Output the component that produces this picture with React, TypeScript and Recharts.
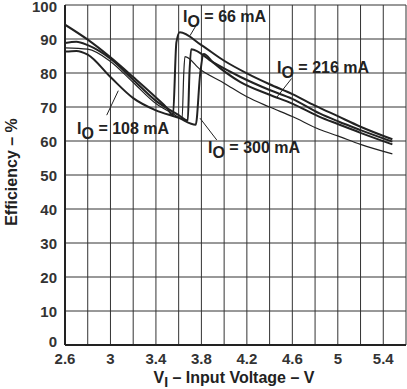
import React from 'react';
import { LineChart, Line, XAxis, YAxis, CartesianGrid, ReferenceDot, ReferenceLine } from 'recharts';

// Input voltage (V) / efficiency (%) for each load current
const io66 = [
  { v: 2.6, eff: 94.2 }, { v: 2.8, eff: 89.8 }, { v: 3.0, eff: 84.6 }, { v: 3.2, eff: 78.8 },
  { v: 3.4, eff: 72.8 }, { v: 3.5, eff: 69.6 }, { v: 3.55, eff: 67.5 }, { v: 3.58, eff: 89 },
  { v: 3.61, eff: 92 }, { v: 3.8, eff: 88.2 }, { v: 4.0, eff: 83.6 }, { v: 4.2, eff: 79.9 },
  { v: 4.4, eff: 76.7 }, { v: 4.6, eff: 73.8 }, { v: 4.8, eff: 70.4 }, { v: 5.0, eff: 67.3 },
  { v: 5.2, eff: 64.2 }, { v: 5.48, eff: 60.5 },
];
const io216 = [
  { v: 2.6, eff: 88.8 }, { v: 2.7, eff: 89.2 }, { v: 2.8, eff: 88.2 }, { v: 3.0, eff: 84.2 },
  { v: 3.2, eff: 78.0 }, { v: 3.4, eff: 71.8 }, { v: 3.6, eff: 67.6 }, { v: 3.68, eff: 66.0 },
  { v: 3.695, eff: 80 }, { v: 3.71, eff: 87 }, { v: 3.9, eff: 83.2 }, { v: 4.14, eff: 78.9 },
  { v: 4.4, eff: 75.0 }, { v: 4.6, eff: 72.4 }, { v: 4.84, eff: 68.1 }, { v: 5.0, eff: 65.8 },
  { v: 5.2, eff: 63.2 }, { v: 5.48, eff: 59.8 },
];
const io300 = [
  { v: 2.6, eff: 86.3 }, { v: 2.7, eff: 86.5 }, { v: 2.8, eff: 85.4 }, { v: 3.0, eff: 78.8 },
  { v: 3.2, eff: 72.6 }, { v: 3.4, eff: 69.0 }, { v: 3.6, eff: 66.8 }, { v: 3.75, eff: 64.8 },
  { v: 3.79, eff: 80 }, { v: 3.82, eff: 85.6 }, { v: 3.9, eff: 83.2 }, { v: 4.14, eff: 77.4 },
  { v: 4.4, eff: 73.6 }, { v: 4.6, eff: 71.0 }, { v: 4.84, eff: 67.1 }, { v: 5.0, eff: 65.0 },
  { v: 5.2, eff: 62.4 }, { v: 5.48, eff: 59.0 },
];
const io108 = [
  { v: 2.6, eff: 87.4 }, { v: 2.8, eff: 87.0 }, { v: 3.0, eff: 83.4 }, { v: 3.2, eff: 77.2 },
  { v: 3.4, eff: 71.0 }, { v: 3.55, eff: 68.0 }, { v: 3.63, eff: 66.5 }, { v: 3.645, eff: 80 },
  { v: 3.655, eff: 84.8 }, { v: 3.79, eff: 81.0 }, { v: 4.0, eff: 77.0 }, { v: 4.2, eff: 73.0 },
  { v: 4.4, eff: 70.0 }, { v: 4.6, eff: 67.2 }, { v: 4.84, eff: 63.4 }, { v: 5.0, eff: 61.5 },
  { v: 5.2, eff: 59.0 }, { v: 5.48, eff: 56.2 },
];

const xTicks = [2.6, 2.8, 3.0, 3.2, 3.4, 3.6, 3.8, 4.0, 4.2, 4.4, 4.6, 4.8, 5.0, 5.2, 5.4, 5.6];
const xLabelTicks = ['2.6', '3', '3.4', '3.8', '4.2', '4.6', '5', '5.4'];
const yTicks = [0, 10, 20, 30, 40, 50, 60, 70, 80, 90, 100];

const annotations = [
  { text: '66 mA', x: 3.638, y: 95.0, px: 3.773, py: 95.1, qx: 3.70, qy: 91.0 },
  { text: '216 mA', x: 4.465, y: 80.0, px: 4.594, py: 78.4, qx: 4.462, qy: 72.8 },
  { text: '108 mA', x: 2.706, y: 62.0, px: 2.967, py: 67.6, qx: 3.069, qy: 74.8 },
  { text: '300 mA', x: 3.858, y: 56.5, px: 3.788, py: 66.7, qx: 3.935, qy: 60.3 },
];

const FONT = '"Liberation Sans", Arial, sans-serif';
const INK = '#222';

const fmt = (v: number) => {
  const s = String(Number(v.toFixed(1)));
  return xLabelTicks.includes(s) ? s : '';
};

const makeLabel = (text: string) => (p: any) => (
  <text x={p.cx} y={p.cy} fontFamily={FONT} fontWeight="bold" fontSize={16} fill={INK}>
    I<tspan fontSize={16} dy={5}>O</tspan>
    <tspan dy={-5}> = {text}</tspan>
  </text>
);

const YTick = (p: any) => {
  const val = p.payload.value;
  const shift = val === 0 ? -3 : val === 100 ? 2 : 1;
  return (
    <text
      x={p.x}
      y={p.y + shift}
      dy="0.355em"
      textAnchor="end"
      fontFamily={FONT}
      fontWeight="bold"
      fontSize={15}
      fill="#333"
    >
      {val}
    </text>
  );
};

export default function App() {
  return (
    <div style={{ position: 'absolute', left: 0, top: 0, width: 407, height: 389, background: '#fff' }}>
      <LineChart width={407} height={389} margin={{ top: 5, right: 1, bottom: 14, left: 8 }}>
        <CartesianGrid stroke="#333" strokeWidth={1} />
        <XAxis
          type="number"
          dataKey="v"
          domain={[2.6, 5.6]}
          ticks={xTicks}
          tickFormatter={fmt}
          interval={0}
          allowDataOverflow
          height={30}
          tickLine={false}
          axisLine={{ stroke: '#222', strokeWidth: 2 }}
          tick={{ fontFamily: FONT, fontWeight: 'bold', fontSize: 15, fill: '#333' }}
        />
        <YAxis
          type="number"
          domain={[0, 100]}
          ticks={yTicks}
          interval={0}
          width={57}
          tickLine={false}
          axisLine={{ stroke: '#222', strokeWidth: 2 }}
          tick={<YTick />}
        />
        <Line data={io66} dataKey="eff" type="monotoneX" stroke={INK} strokeWidth={2} dot={false} isAnimationActive={false} />
        <Line data={io216} dataKey="eff" type="monotoneX" stroke={INK} strokeWidth={2} dot={false} isAnimationActive={false} />
        <Line data={io300} dataKey="eff" type="monotoneX" stroke={INK} strokeWidth={2} dot={false} isAnimationActive={false} />
        <Line data={io108} dataKey="eff" type="monotoneX" stroke={INK} strokeWidth={1.2} dot={false} isAnimationActive={false} />
        {annotations.map((a) => (
          <ReferenceLine
            key={'l' + a.text}
            segment={[{ x: a.px, y: a.py }, { x: a.qx, y: a.qy }]}
            stroke={INK}
            strokeWidth={1}
          />
        ))}
        {annotations.map((a) => (
          <ReferenceDot key={'t' + a.text} x={a.x} y={a.y} r={0} shape={makeLabel(a.text)} />
        ))}
      </LineChart>
      <svg width={407} height={389} style={{ position: 'absolute', left: 0, top: 0, pointerEvents: 'none' }}>
        <text
          x={0}
          y={0}
          transform="translate(17,172) rotate(-90)"
          textAnchor="middle"
          fontFamily={FONT}
          fontWeight="bold"
          fontSize={16}
          fill={INK}
        >
          Efficiency – %
        </text>
        <text x={234} y={383} textAnchor="middle" fontFamily={FONT} fontWeight="bold" fontSize={16} fill={INK}>
          V<tspan fontSize={14} dy={4}>I</tspan>
          <tspan dy={-4}> – Input Voltage – V</tspan>
        </text>
      </svg>
    </div>
  );
}
